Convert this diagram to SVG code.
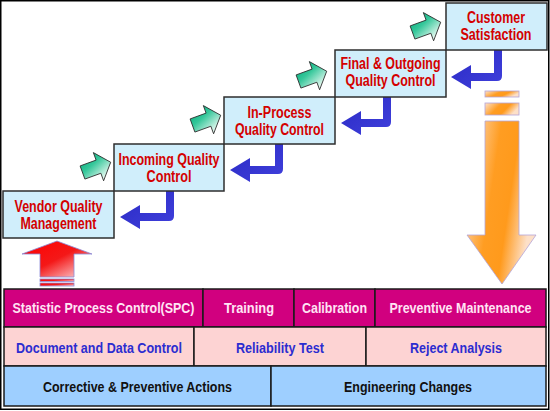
<svg xmlns="http://www.w3.org/2000/svg" width="550" height="411" viewBox="0 0 550 411">
<defs>
<linearGradient id="gGreen" x1="0" y1="0" x2="0.4" y2="1">
<stop offset="0" stop-color="#00a878"/>
<stop offset="0.45" stop-color="#35c79a"/>
<stop offset="1" stop-color="#e6f8f0"/>
</linearGradient>
<linearGradient id="gOrange" x1="0" y1="0" x2="1" y2="0.35">
<stop offset="0" stop-color="#fde2cc"/>
<stop offset="0.45" stop-color="#ff9d22"/>
<stop offset="0.7" stop-color="#ff9a1c"/>
<stop offset="1" stop-color="#fde0c8"/>
</linearGradient>
<linearGradient id="gRed" x1="0" y1="0" x2="1" y2="1">
<stop offset="0" stop-color="#ff0000"/>
<stop offset="0.5" stop-color="#f41818"/>
<stop offset="1" stop-color="#fde4e8"/>
</linearGradient>
<linearGradient id="gBlue" x1="0" y1="0" x2="1" y2="1">
<stop offset="0" stop-color="#2a2ac4"/>
<stop offset="1" stop-color="#4040dc"/>
</linearGradient>
<path id="greenArrow" d="M0,-7 L17,-7 L17,-15 L30,0 L17,15 L17,7 L0,7 Z"/>
</defs>
<style>
.box{fill:#d0eefb;stroke:#2e2e2e;stroke-width:1.5}
.bt{font-family:"Liberation Sans",Arial,sans-serif;font-weight:bold;font-size:16px;fill:#d40000;text-anchor:middle}
.tt{font-family:"Liberation Sans",Arial,sans-serif;font-weight:bold;font-size:14px;text-anchor:middle}
.r1{fill:#d1007f;stroke:#1a1a1a;stroke-width:1.5}
.r2{fill:#fdd3d3;stroke:#1a1a1a;stroke-width:1.5}
.r3{fill:#9ecfff;stroke:#1a1a1a;stroke-width:1.5}
.t1{fill:#ffe4f4}
.t2{fill:#2c2cd0}
.t3{fill:#111}
.ga{fill:url(#gGreen);stroke:#2a2a2a;stroke-width:0.8}
.ba{fill:url(#gBlue)}
</style>
<rect x="0.75" y="0.75" width="548" height="408.5" fill="#ffffff" stroke="#000" stroke-width="1.5"/>

<g id="connectors">
<path class="ba" d="M166,191 L174,191 L174,216 Q174,221 169,221 L140,221 L140,229 L120,217 L140,205 L140,213 L166,213 Z"/>
<path class="ba" d="M275,144 L283,144 L283,169 Q283,174 278,174 L250,174 L250,182 L230,170 L250,158 L250,166 L275,166 Z"/>
<path class="ba" d="M383,97 L391,97 L391,122 Q391,127 386,127 L361,127 L361,135 L341,123 L361,111 L361,119 L383,119 Z"/>
<path class="ba" d="M494,50 L502,50 L502,76 Q502,81 497,81 L471,81 L471,89 L451,77 L471,65 L471,73 L494,73 Z"/>
<use href="#greenArrow" class="ga" transform="translate(82.5,172.5) rotate(-20)"/>
<use href="#greenArrow" class="ga" transform="translate(192.5,125.5) rotate(-20)"/>
<use href="#greenArrow" class="ga" transform="translate(298.5,81.5) rotate(-20)"/>
<use href="#greenArrow" class="ga" transform="translate(412.5,32.5) rotate(-20)"/>
</g>

<g id="node-vendor">
<rect class="box" x="3" y="191" width="111" height="47"/>
<text class="bt" x="58.5" y="212" textLength="88" lengthAdjust="spacingAndGlyphs">Vendor Quality</text>
<text class="bt" x="58.5" y="229" textLength="76" lengthAdjust="spacingAndGlyphs">Management</text>
</g>
<g id="node-incoming">
<rect class="box" x="114" y="144" width="110" height="47"/>
<text class="bt" x="169" y="165" textLength="101" lengthAdjust="spacingAndGlyphs">Incoming Quality</text>
<text class="bt" x="169" y="182" textLength="45" lengthAdjust="spacingAndGlyphs">Control</text>
</g>
<g id="node-inprocess">
<rect class="box" x="224" y="97" width="111" height="47"/>
<text class="bt" x="279.5" y="117.5" textLength="64" lengthAdjust="spacingAndGlyphs">In-Process</text>
<text class="bt" x="279.5" y="134.5" textLength="89" lengthAdjust="spacingAndGlyphs">Quality Control</text>
</g>
<g id="node-final">
<rect class="box" x="335" y="50" width="111" height="47"/>
<text class="bt" x="390.5" y="69" textLength="100" lengthAdjust="spacingAndGlyphs">Final &amp; Outgoing</text>
<text class="bt" x="390.5" y="86" textLength="90" lengthAdjust="spacingAndGlyphs">Quality Control</text>
</g>
<g id="node-customer">
<rect class="box" x="446" y="3" width="101" height="47"/>
<text class="bt" x="496" y="23" textLength="58" lengthAdjust="spacingAndGlyphs">Customer</text>
<text class="bt" x="496" y="40" textLength="71" lengthAdjust="spacingAndGlyphs">Satisfaction</text>
</g>

<g id="arrow-up-red" fill="url(#gRed)" stroke="#8c8cd8" stroke-width="0.8">
<path d="M40,277 L40,254 L22,254 L57,241 L92,254 L74,254 L74,277 Z"/>
<rect x="40" y="279" width="34" height="2.5"/>
<rect x="40" y="283" width="34" height="3"/>
</g>

<g id="arrow-down-orange" fill="url(#gOrange)" stroke="#b4a4d8" stroke-width="0.8">
<rect x="485" y="91" width="34" height="6"/>
<rect x="485" y="103" width="34" height="12"/>
<path d="M485,121 L519,121 L519,235 L536,235 L502,284 L467,235 L485,235 Z"/>
</g>

<g id="row1">
<g id="cell-spc"><rect class="r1" x="4" y="289" width="199" height="38"/><text class="tt t1" x="103.5" y="313" textLength="182" lengthAdjust="spacingAndGlyphs">Statistic Process Control(SPC)</text></g>
<g id="cell-training"><rect class="r1" x="203" y="289" width="91" height="38"/><text class="tt t1" x="249" y="313" textLength="50" lengthAdjust="spacingAndGlyphs">Training</text></g>
<g id="cell-calibration"><rect class="r1" x="294" y="289" width="81" height="38"/><text class="tt t1" x="334.5" y="313" textLength="65" lengthAdjust="spacingAndGlyphs">Calibration</text></g>
<g id="cell-pm"><rect class="r1" x="375" y="289" width="171" height="38"/><text class="tt t1" x="460.5" y="313" textLength="142" lengthAdjust="spacingAndGlyphs">Preventive Maintenance</text></g>
</g>
<g id="row2">
<g id="cell-doc"><rect class="r2" x="4" y="327" width="190" height="39"/><text class="tt t2" x="99" y="352.5" textLength="166" lengthAdjust="spacingAndGlyphs">Document and Data Control</text></g>
<g id="cell-rel"><rect class="r2" x="194" y="327" width="172" height="39"/><text class="tt t2" x="280" y="352.5" textLength="88" lengthAdjust="spacingAndGlyphs">Reliability Test</text></g>
<g id="cell-reject"><rect class="r2" x="366" y="327" width="180" height="39"/><text class="tt t2" x="456" y="352.5" textLength="92" lengthAdjust="spacingAndGlyphs">Reject Analysis</text></g>
</g>
<g id="row3">
<g id="cell-capa"><rect class="r3" x="4" y="366" width="267" height="40"/><text class="tt t3" x="137.5" y="391.5" textLength="189" lengthAdjust="spacingAndGlyphs">Corrective &amp; Preventive Actions</text></g>
<g id="cell-eng"><rect class="r3" x="271" y="366" width="275" height="40"/><text class="tt t3" x="408" y="391.5" textLength="128" lengthAdjust="spacingAndGlyphs">Engineering Changes</text></g>
</g>
</svg>
